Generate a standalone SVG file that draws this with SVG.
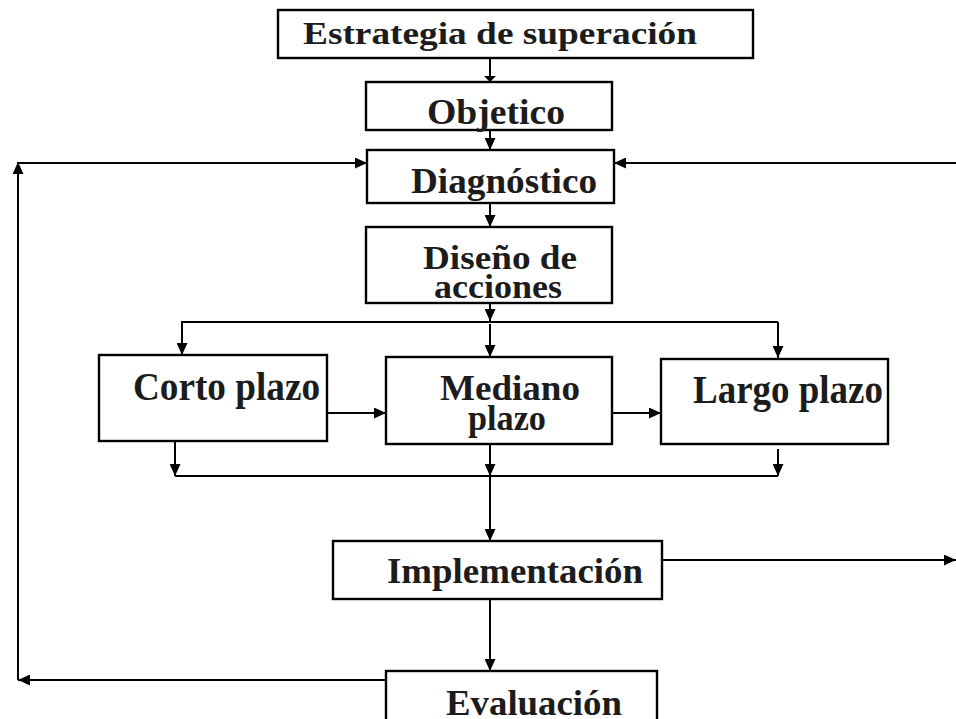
<svg xmlns="http://www.w3.org/2000/svg" width="956" height="719" viewBox="0 0 956 719">
<style>
.box{fill:#fff;stroke:#000;stroke-width:2.4}
.ln{fill:none;stroke:#000;stroke-width:2}
.t{font-family:"Liberation Serif","Times New Roman",serif;font-weight:bold;fill:#1c1c1c}
</style>
<defs>
<marker id="ah" markerUnits="userSpaceOnUse" markerWidth="12" markerHeight="11" refX="12" refY="5.5" orient="auto">
<path d="M0,0 L12,5.5 L0,11 z" fill="#000"/>
</marker>
<marker id="ahs" markerUnits="userSpaceOnUse" markerWidth="6" markerHeight="12" refX="6" refY="6" orient="auto">
<path d="M0,0 L6,6 L0,12 z" fill="#000"/>
</marker>
</defs>
<rect width="956" height="719" fill="#fff"/>
<g id="connectors">
<line class="ln" x1="490" y1="50" x2="490" y2="82" marker-end="url(#ahs)"/>
<line class="ln" x1="490" y1="130" x2="490" y2="150" marker-end="url(#ah)"/>
<line class="ln" x1="490" y1="203" x2="490" y2="227" marker-end="url(#ah)"/>
<line class="ln" x1="490" y1="303" x2="490" y2="321" marker-end="url(#ah)"/>
<line class="ln" x1="181" y1="322" x2="778" y2="322"/>
<line class="ln" x1="182" y1="322" x2="182" y2="355" marker-end="url(#ah)"/>
<line class="ln" x1="490" y1="324" x2="490" y2="357" marker-end="url(#ah)"/>
<line class="ln" x1="778" y1="322" x2="778" y2="358" marker-end="url(#ah)"/>
<line class="ln" x1="327" y1="413" x2="386" y2="413" marker-end="url(#ah)"/>
<line class="ln" x1="612" y1="413" x2="661" y2="413" marker-end="url(#ah)"/>
<line class="ln" x1="175" y1="441" x2="175" y2="476" marker-end="url(#ah)"/>
<line class="ln" x1="778" y1="449" x2="778" y2="476" marker-end="url(#ah)"/>
<line class="ln" x1="175" y1="476" x2="778" y2="476"/>
<line class="ln" x1="490" y1="444" x2="490" y2="476" marker-end="url(#ah)"/>
<line class="ln" x1="490" y1="476" x2="490" y2="541" marker-end="url(#ah)"/>
<line class="ln" x1="662" y1="560" x2="956" y2="560" marker-end="url(#ah)"/>
<line class="ln" x1="490" y1="599" x2="490" y2="671" marker-end="url(#ah)"/>
<line class="ln" x1="386" y1="680" x2="18" y2="680" marker-end="url(#ah)"/>
<line class="ln" x1="18" y1="680" x2="18" y2="162" marker-end="url(#ah)"/>
<line class="ln" x1="18" y1="163" x2="367" y2="163" marker-end="url(#ah)"/>
<line class="ln" x1="956" y1="163" x2="614" y2="163" marker-end="url(#ah)"/>
</g>
<g id="n-estrategia">
<rect class="box" x="278" y="10" width="475" height="48"/>
<text class="t" x="303" y="44" font-size="31" textLength="394" lengthAdjust="spacingAndGlyphs">Estrategia de superación</text>
</g>
<g id="n-objetico">
<rect class="box" x="366" y="82" width="246" height="48"/>
<text class="t" x="427" y="124" font-size="36" textLength="138" lengthAdjust="spacingAndGlyphs">Objetico</text>
</g>
<g id="n-diagnostico">
<rect class="box" x="367" y="150" width="247" height="53"/>
<text class="t" x="411" y="193" font-size="35" textLength="186" lengthAdjust="spacingAndGlyphs">Diagnóstico</text>
</g>
<g id="n-diseno">
<rect class="box" x="366" y="227" width="246" height="76"/>
<text class="t" x="423" y="269" font-size="33" textLength="154" lengthAdjust="spacingAndGlyphs">Diseño de</text>
<text class="t" x="434" y="298" font-size="33" textLength="128" lengthAdjust="spacingAndGlyphs">acciones</text>
</g>
<g id="n-corto">
<rect class="box" x="99" y="355" width="228" height="86"/>
<text class="t" x="133" y="400" font-size="40" textLength="187" lengthAdjust="spacingAndGlyphs">Corto plazo</text>
</g>
<g id="n-mediano">
<rect class="box" x="386" y="357" width="226" height="87"/>
<text class="t" x="440" y="400" font-size="36" textLength="140" lengthAdjust="spacingAndGlyphs">Mediano</text>
<text class="t" x="468" y="430" font-size="36" textLength="78" lengthAdjust="spacingAndGlyphs">plazo</text>
</g>
<g id="n-largo">
<rect class="box" x="661" y="359" width="227" height="85"/>
<text class="t" x="693" y="403" font-size="39" textLength="190" lengthAdjust="spacingAndGlyphs">Largo plazo</text>
</g>
<g id="n-implementacion">
<rect class="box" x="333" y="541" width="329" height="58"/>
<text class="t" x="387" y="583" font-size="36" textLength="256" lengthAdjust="spacingAndGlyphs">Implementación</text>
</g>
<g id="n-evaluacion">
<rect class="box" x="386" y="671" width="271" height="60"/>
<text class="t" x="446" y="715" font-size="36" textLength="176" lengthAdjust="spacingAndGlyphs">Evaluación</text>
</g>
</svg>
